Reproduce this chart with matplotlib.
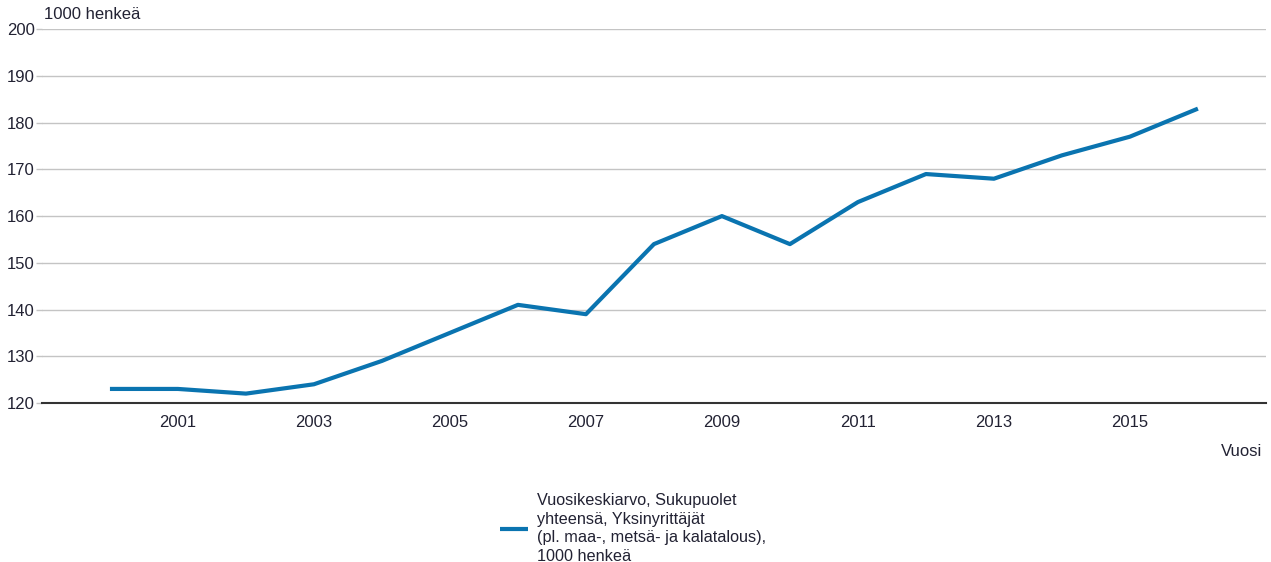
import matplotlib
matplotlib.use("Agg")
import matplotlib.pyplot as plt

# data
years = [2000, 2001, 2002, 2003, 2004, 2005, 2006, 2007, 2008,
         2009, 2010, 2011, 2012, 2013, 2014, 2015, 2016]
values = [123, 123, 122, 124, 129, 135, 141, 139, 154,
          160, 154, 163, 169, 168, 173, 177, 183]
xtick_years = [2001, 2003, 2005, 2007, 2009, 2011, 2013, 2015]
yticks = [120, 130, 140, 150, 160, 170, 180, 190, 200]
series_label = ("Vuosikeskiarvo, Sukupuolet\nyhteensä, Yksinyrittäjät\n"
                "(pl. maa-, metsä- ja kalatalous),\n1000 henkeä")

plt.rcParams['font.family'] = ['Liberation Sans', 'DejaVu Sans']
text_col = '#222233'

fig = plt.figure(figsize=(12.71, 5.62), dpi=100)
ax = fig.add_axes([0.033, 0.283, 0.963, 0.665])

line, = ax.plot(years, values, color='#0a74b0', lw=3.0, solid_capstyle='butt',
                solid_joinstyle='round', label=series_label, zorder=3)

ax.set_xlim(1999, 2017)
ax.set_ylim(120, 200)
ax.set_yticks(yticks)
ax.set_xticks(xtick_years)
ax.grid(axis='y', color='#c4c4c4', lw=1.0)
ax.set_axisbelow(True)

for s in ['left', 'right', 'top']:
    ax.spines[s].set_visible(False)
ax.spines['bottom'].set_color('#333333')
ax.spines['bottom'].set_linewidth(1.5)
ax.spines['bottom'].set_zorder(4)

ax.tick_params(axis='y', length=4, width=1, color='#c4c4c4', pad=1,
               labelsize=12, labelcolor=text_col)
ax.tick_params(axis='x', length=0, pad=9, labelsize=12, labelcolor=text_col)

fig.text(0.035, 0.975, "1000 henkeä", fontsize=12, color=text_col,
         ha='left', va='center')
fig.text(0.993, 0.196, "Vuosi", fontsize=12, color=text_col,
         ha='right', va='center')

leg = fig.legend(handles=[line], loc='upper left', bbox_to_anchor=(0.3934, 0.122),
                 frameon=False, fontsize=11.7, handlelength=1.75, handletextpad=0.5,
                 borderpad=0, borderaxespad=0, labelcolor=text_col)
for t in leg.get_texts():
    t.set_linespacing(1.28)

fig.savefig("out.png", dpi=100)
